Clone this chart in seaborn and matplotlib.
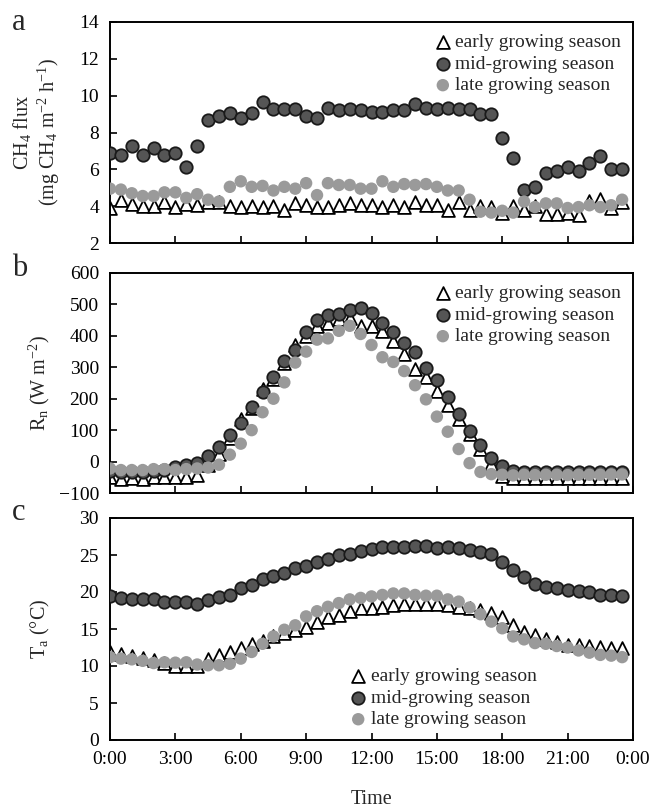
import numpy as np
import pandas as pd
import matplotlib
matplotlib.use("Agg")
import matplotlib.pyplot as plt
import seaborn as sns

# -------------------- DATA --------------------
# half-hourly means, 0:00 ... 23:30
hours = np.arange(0, 24, 0.5)
time_ticks = [0, 3, 6, 9, 12, 15, 18, 21, 24]
time_labels = ["0:00", "3:00", "6:00", "9:00", "12:00", "15:00", "18:00", "21:00", "0:00"]
seasons = ["early growing season", "mid-growing season", "late growing season"]

ch4_early = [3.9, 4.35, 4.1, 4.0, 4.0, 4.2, 3.95, 4.1, 4.05, 4.2, 4.2, 4.0, 3.95, 4.0, 3.95, 4.0,
             3.8, 4.15, 4.05, 3.95, 3.95, 4.05, 4.15, 4.05, 4.05, 3.95, 4.05, 3.95, 4.2, 4.05, 4.05, 3.8,
             4.2, 3.8, 4.0, 3.95, 3.65, 4.0, 3.8, 4.0, 3.6, 3.6, 3.65, 3.5, 4.3, 4.4, 3.9, 4.2]
ch4_mid = [6.9, 6.8, 7.25, 6.8, 7.15, 6.8, 6.9, 6.1, 7.25, 8.7, 8.9, 9.05, 8.8, 9.05, 9.65, 9.3,
           9.3, 9.3, 8.9, 8.8, 9.35, 9.2, 9.25, 9.2, 9.1, 9.1, 9.2, 9.2, 9.55, 9.35, 9.3, 9.35,
           9.3, 9.3, 9.0, 9.0, 7.7, 6.6, 4.9, 5.05, 5.8, 5.9, 6.15, 5.9, 6.35, 6.75, 6.0, 6.0]
ch4_late = [4.95, 4.9, 4.7, 4.55, 4.55, 4.75, 4.75, 4.45, 4.65, 4.35, 4.25, 5.05, 5.35, 5.05, 5.1, 4.85,
            5.05, 4.95, 5.25, 4.6, 5.25, 5.15, 5.15, 4.95, 4.95, 5.35, 5.05, 5.2, 5.15, 5.2, 5.05, 4.85,
            4.85, 4.35, 3.7, 3.65, 3.75, 3.65, 4.25, 3.95, 4.15, 4.15, 3.9, 3.95, 4.05, 3.95, 4.05, 4.35]

rn_early = [-50, -55, -52, -56, -50, -50, -50, -50, -42, -10, 25, 75, 135, 170, 232, 262,
            315, 370, 400, 430, 440, 455, 458, 432, 432, 416, 385, 343, 293, 268, 223, 181,
            134, 87, 40, -7, -45, -52, -52, -53, -52, -53, -52, -52, -53, -52, -52, -53]
rn_mid = [-30, -32, -32, -32, -30, -28, -18, -12, -3, 17, 47, 85, 123, 175, 220, 270,
          320, 356, 411, 450, 467, 468, 483, 490, 472, 442, 411, 377, 348, 299, 259, 205,
          150, 97, 52, 12, -15, -30, -33, -34, -33, -33, -34, -33, -33, -34, -33, -33]
rn_late = [-22, -27, -27, -27, -24, -24, -27, -24, -22, -19, -10, 22, 57, 100, 157, 200,
           252, 315, 350, 388, 392, 416, 432, 406, 371, 332, 317, 288, 243, 198, 143, 95,
           40, -5, -33, -40, -42, -44, -42, -43, -42, -42, -43, -42, -42, -42, -41, -41]

ta_early = [11.9, 11.6, 11.4, 11.1, 10.8, 10.4, 10.0, 10.0, 10.0, 10.9, 11.5, 11.9, 12.5, 13.0, 13.4, 14.0,
            14.5, 14.8, 15.3, 16.0, 16.6, 16.9, 17.4, 17.8, 17.8, 18.0, 18.3, 18.4, 18.4, 18.4, 18.4, 18.3,
            18.0, 17.8, 17.6, 17.1, 16.6, 15.6, 14.6, 14.2, 13.7, 13.3, 12.8, 12.8, 12.7, 12.6, 12.5, 12.5]
ta_mid = [19.4, 19.2, 19.0, 19.0, 19.0, 18.7, 18.7, 18.7, 18.4, 18.9, 19.3, 19.6, 20.5, 20.9, 21.7, 22.1,
          22.6, 23.3, 23.5, 24.1, 24.5, 25.0, 25.2, 25.5, 25.8, 26.1, 26.1, 26.1, 26.2, 26.2, 26.0, 26.1,
          25.9, 25.7, 25.4, 25.1, 24.0, 23.0, 22.0, 21.1, 20.7, 20.5, 20.3, 20.1, 19.95, 19.6, 19.6, 19.4]
ta_late = [11.2, 11.0, 10.9, 10.7, 10.4, 10.5, 10.45, 10.5, 10.2, 10.1, 10.1, 10.3, 11.0, 11.9, 13.0, 14.0,
           14.9, 15.5, 16.7, 17.4, 18.0, 18.5, 19.0, 19.2, 19.4, 19.6, 19.8, 19.8, 19.6, 19.5, 19.5, 19.0,
           18.7, 17.9, 17.0, 16.0, 15.1, 14.0, 13.6, 13.1, 13.0, 12.7, 12.5, 12.1, 11.8, 11.5, 11.4, 11.2]

# -------------------- STYLE --------------------
sns.set_theme(style="ticks")
plt.rcParams["font.family"] = ["Liberation Serif", "DejaVu Serif"]
plt.rcParams["mathtext.fontset"] = "custom"
plt.rcParams["mathtext.rm"] = "Liberation Serif"
plt.rcParams["mathtext.it"] = "Liberation Serif:italic"
plt.rcParams["mathtext.default"] = "rm"

FS = 14
MID_C = "#555555"
LATE_C = "#9a9a9a"

fig = plt.figure(figsize=(6.54, 8.11), dpi=100)
W, H = 654, 811


def add_panel(top, bottom):
    # pixel box -> figure fractions
    return fig.add_axes([110 / W, (H - bottom) / H, 523 / W, (bottom - top) / H])


def draw(ax, early, mid, late):
    df = pd.DataFrame({"hour": hours, "early": early, "mid": mid, "late": late})
    sns.scatterplot(data=df, x="hour", y="early", ax=ax, marker="^", s=85, color="white",
                    edgecolor="black", linewidth=1.3, label=seasons[0], zorder=2)
    sns.scatterplot(data=df, x="hour", y="mid", ax=ax, marker="o", s=80, color=MID_C,
                    edgecolor="#1a1a1a", linewidth=1.3, label=seasons[1], zorder=3)
    sns.scatterplot(data=df, x="hour", y="late", ax=ax, marker="o", s=80, color=LATE_C,
                    edgecolor="none", linewidth=0, label=seasons[2], zorder=4)
    ax.set_xlim(0, 24)
    ax.set_xticks(time_ticks)
    ax.tick_params(direction="in", length=5, width=1.2, labelsize=FS, pad=8, colors="black")
    for sp in ax.spines.values():
        sp.set_visible(True)
        sp.set_linewidth(1.4)
        sp.set_color("black")
    ax.set_xlabel("")


ax_a = add_panel(22, 243)
draw(ax_a, ch4_early, ch4_mid, ch4_late)
ax_a.set_ylim(2, 14)
ax_a.set_yticks(range(2, 15, 2))
ax_a.set_xticklabels([])
ax_a.set_ylabel("CH$_4$ flux\n(mg CH$_4$ m$^{-2}$ h$^{-1}$)", fontsize=FS + 0.5, linespacing=1.15)
ax_a.yaxis.set_label_coords(-0.092, 0.5)

ax_b = add_panel(273, 493)
draw(ax_b, rn_early, rn_mid, rn_late)
ax_b.set_ylim(-100, 600)
ax_b.set_yticks(range(-100, 601, 100))
ax_b.set_xticklabels([])
ax_b.set_ylabel("R$_n$ (W m$^{-2}$)", fontsize=FS + 0.5)
ax_b.yaxis.set_label_coords(-0.11, 0.5)

ax_c = add_panel(518, 740)
draw(ax_c, ta_early, ta_mid, ta_late)
ax_c.set_ylim(0, 30)
ax_c.set_yticks(range(0, 31, 5))
ax_c.set_xticklabels(time_labels)
ax_c.set_ylabel("T$_a$ (°C)", fontsize=FS + 0.5)
ax_c.yaxis.set_label_coords(-0.11, 0.5)
ax_c.set_xlabel("Time", fontsize=FS + 0.5, labelpad=16)

leg_kw = dict(frameon=False, fontsize=FS, handletextpad=0.05, labelspacing=0.2,
              borderaxespad=0.2, handlelength=1.2)
ax_a.legend(loc="upper right", **leg_kw)
ax_b.legend(loc="upper right", **leg_kw)
ax_c.legend(loc="lower left", bbox_to_anchor=(0.43, 0.0), **leg_kw)

for label, y in [("a", 22), ("b", 268), ("c", 513)]:
    fig.text(12 / W, 1 - y / H, label, fontsize=22, va="center", ha="left")

fig.savefig("out.png", dpi=100, facecolor="white")
